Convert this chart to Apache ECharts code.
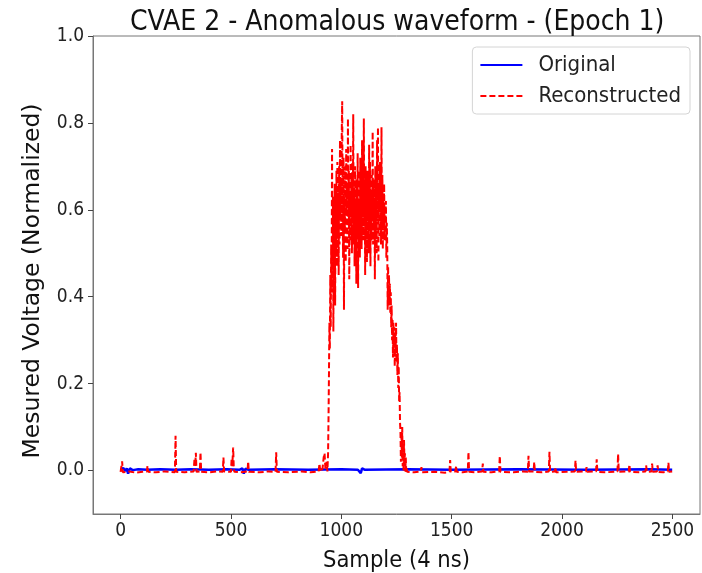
<!DOCTYPE html>
<html>
<head>
<meta charset="utf-8">
<script src="https://cdn.jsdelivr.net/npm/echarts@6/dist/echarts.min.js"></script>
<style>
  html, body { margin: 0; padding: 0; background: #fff; }
  #chart { width: 702px; height: 573px; }
</style>
</head>
<body>
<div id="chart"></div>
<script>
  // tick positions
  var xTicks = [0, 500, 1000, 1500, 2000, 2500]
  var yTicks = [0, 0.2, 0.4, 0.6, 0.8, 1.0]

  // original waveform, [sample, value]
  var original = [
    [0, 0.002], [12, 0.006], [20, -0.001], [28, 0.005], [34, -0.007], [42, 0.005], [55, 0.001],
    [80, 0.003], [120, 0.002], [180, 0.003], [250, 0.002], [320, 0.003], [400, 0.002], [480, 0.003],
    [540, 0.002], [552, 0.005], [558, -0.007], [566, 0.004], [580, 0.002], [700, 0.003], [850, 0.002],
    [1000, 0.003], [1075, 0.002], [1082, 0.006], [1088, -0.006], [1094, 0.005], [1105, 0.002],
    [1300, 0.003], [1500, 0.002], [1800, 0.003], [2100, 0.002], [2400, 0.003], [2499, 0.002]
  ]

  // reconstruction before the burst
  var reconBefore = [
    [0, -0.003], [7, 0.021], [10, -0.004], [40, -0.002], [70, -0.005], [100, -0.003], [119, -0.002],
    [122, 0.011], [125, -0.003], [160, -0.004], [200, -0.002], [246, -0.004], [249, 0.080], [252, -0.003],
    [290, -0.004], [331, -0.002], [335, 0.028], [338, 0.010], [341, 0.041], [344, -0.003], [359, -0.002],
    [362, 0.042], [365, -0.003], [400, -0.004], [440, -0.002], [463, -0.003], [466, 0.030], [469, -0.002],
    [500, -0.003], [503, 0.026], [506, 0.010], [510, 0.053], [513, 0.002], [516, -0.003], [545, -0.004],
    [575, -0.002], [578, 0.021], [581, -0.003], [630, -0.004], [670, -0.002], [702, -0.003], [705, 0.042],
    [708, -0.003], [760, -0.004], [820, -0.002], [860, -0.004], [897, -0.002], [901, 0.016], [905, -0.003],
    [915, 0.005], [920, 0.030], [924, 0.040], [928, 0.004], [933, 0.020], [937, -0.002]
  ]

  // burst, one value every burstStep samples from burstStart
  var burstStart = 940
  var burstStep = 2
  var burstValues = [
    0.04, 0.12, 0.22, 0.34, 0.28, 0.45, 0.33, 0.52, 0.41, 0.74,
    0.46, 0.63, 0.32, 0.58, 0.44, 0.66, 0.38, 0.61, 0.50, 0.69,
    0.47, 0.71, 0.55, 0.64, 0.45, 0.70, 0.52, 0.76, 0.58, 0.67,
    0.54, 0.78, 0.85, 0.60, 0.49, 0.72, 0.37, 0.63, 0.55, 0.70,
    0.48, 0.74, 0.59, 0.66, 0.51, 0.81, 0.57, 0.69, 0.44, 0.63,
    0.53, 0.75, 0.60, 0.68, 0.50, 0.71, 0.58, 0.82, 0.52, 0.65,
    0.47, 0.70, 0.56, 0.62, 0.43, 0.67, 0.54, 0.73, 0.42, 0.61,
    0.55, 0.69, 0.49, 0.72, 0.58, 0.64, 0.51, 0.76, 0.60, 0.68,
    0.53, 0.81, 0.57, 0.66, 0.45, 0.70, 0.55, 0.63, 0.48, 0.69,
    0.58, 0.66, 0.50, 0.75, 0.56, 0.71, 0.47, 0.64, 0.53, 0.68,
    0.59, 0.78, 0.52, 0.67, 0.57, 0.62, 0.44, 0.70, 0.55, 0.65,
    0.50, 0.76, 0.58, 0.79, 0.48, 0.66, 0.54, 0.71, 0.60, 0.64,
    0.52, 0.79, 0.56, 0.68, 0.51, 0.63, 0.57, 0.66, 0.53, 0.61,
    0.58, 0.62, 0.49, 0.57, 0.52, 0.37, 0.47, 0.40, 0.45, 0.38,
    0.43, 0.36, 0.41, 0.33, 0.38, 0.30, 0.35, 0.26, 0.34, 0.29,
    0.33, 0.24, 0.31, 0.27, 0.34, 0.25, 0.29, 0.22, 0.27, 0.19,
    0.24, 0.16, 0.18, 0.11, 0.09, 0.02, 0.08, 0.03, 0.10, 0.01,
    0.06, 0.00, 0.07, 0.02, 0.04, -0.002, 0.03, -0.003, 0.005, -0.003
  ]

  // reconstruction after the burst
  var reconAfter = [
    [1300, -0.003], [1330, -0.004], [1360, -0.002], [1363, 0.008], [1366, -0.004], [1420, -0.003],
    [1470, -0.005], [1490, -0.002], [1493, 0.024], [1496, -0.003], [1517, -0.002], [1520, 0.011],
    [1523, -0.003], [1550, -0.004], [1573, -0.002], [1576, 0.043], [1579, -0.003], [1610, -0.004],
    [1638, -0.002], [1641, 0.016], [1644, -0.003], [1680, -0.004], [1715, -0.002], [1718, 0.034],
    [1721, -0.003], [1780, -0.004], [1820, -0.002], [1845, -0.003], [1848, 0.034], [1851, -0.002],
    [1871, -0.002], [1874, 0.020], [1877, -0.003], [1910, -0.004], [1940, -0.002], [1943, 0.043],
    [1946, -0.003], [1967, -0.002], [1970, 0.008], [1973, -0.004], [2020, -0.003], [2058, -0.002],
    [2061, 0.023], [2064, -0.003], [2108, -0.002], [2111, 0.008], [2114, -0.003], [2154, -0.002],
    [2157, 0.026], [2160, -0.003], [2200, -0.004], [2251, -0.002], [2254, 0.038], [2257, -0.003],
    [2302, -0.002], [2305, 0.014], [2308, -0.003], [2350, -0.004], [2378, -0.002], [2381, 0.012],
    [2384, -0.003], [2405, -0.002], [2408, 0.016], [2411, -0.003], [2430, -0.002], [2433, 0.012],
    [2436, -0.003], [2460, -0.004], [2479, -0.002], [2482, 0.018], [2485, -0.003], [2499, -0.002]
  ]

  var font = "'DejaVu Sans Condensed', 'DejaVu Sans', sans-serif"

  var reconstructed = reconBefore
    .concat(burstValues.map(function (v, i) { return [burstStart + i * burstStep, v] }))
    .concat(reconAfter)

  var chart = echarts.init(document.getElementById('chart'))
  chart.setOption({
    animation: false,
    title: {
      text: 'CVAE 2 - Anomalous waveform - (Epoch 1)',
      left: 130,
      top: 9,
      padding: 0,
      textStyle: { fontFamily: font, fontSize: 28, fontWeight: 'normal', color: '#111' }
    },
    legend: {
      data: ['Original', 'Reconstructed'],
      orient: 'vertical',
      right: 12,
      top: 47,
      itemWidth: 42,
      itemHeight: 14,
      itemGap: 9,
      padding: [7, 9, 7, 7],
      backgroundColor: '#fff',
      borderColor: '#d4d4d4',
      borderWidth: 1,
      borderRadius: 4,
      itemStyle: { opacity: 0 },
      textStyle: { fontFamily: font, fontSize: 22, color: '#222', padding: [0, 0, 0, 11] }
    },
    grid: {
      left: 93,
      right: 2,
      top: 36,
      bottom: 59,
      outerBoundsMode: 'none',
      show: true,
      borderColor: '#777',
      borderWidth: 1
    },
    xAxis: {
      type: 'value',
      min: -125,
      max: 2625,
      name: 'Sample (4 ns)',
      nameLocation: 'middle',
      nameGap: 35,
      nameTextStyle: { fontFamily: font, fontSize: 23.5, color: '#111' },
      axisLine: { show: true, onZero: false, lineStyle: { color: '#777' } },
      axisTick: { show: true, length: 5, customValues: xTicks, lineStyle: { color: '#444' } },
      axisLabel: {
        customValues: xTicks,
        margin: 8,
        fontFamily: font,
        fontSize: 19,
        color: '#222',
        formatter: function (v) { return String(v) }
      },
      splitLine: { show: false }
    },
    yAxis: {
      type: 'value',
      min: -0.1,
      max: 1.0,
      name: 'Mesured Voltage (Normalized)',
      nameLocation: 'middle',
      nameGap: 48,
      nameTextStyle: { fontFamily: "'DejaVu Sans', sans-serif", fontSize: 23.5, color: '#111', padding: [0, 12, 0, 0] },
      axisLine: { show: true, onZero: false, lineStyle: { color: '#777' } },
      axisTick: { show: true, length: 5, customValues: yTicks, lineStyle: { color: '#444' } },
      axisLabel: {
        customValues: yTicks,
        margin: 9,
        fontFamily: font,
        fontSize: 19,
        color: '#222',
        formatter: function (v) { return v.toFixed(1) }
      },
      splitLine: { show: false }
    },
    series: [
      {
        name: 'Original',
        type: 'line',
        data: original,
        symbol: 'none',
        lineStyle: { color: '#0000ff', width: 2.5 },
        itemStyle: { color: '#0000ff' }
      },
      {
        name: 'Reconstructed',
        type: 'line',
        data: reconstructed,
        symbol: 'none',
        lineStyle: { color: '#ff0000', width: 2, type: [6, 3] },
        itemStyle: { color: '#ff0000' }
      }
    ]
  })
</script>
</body>
</html>
